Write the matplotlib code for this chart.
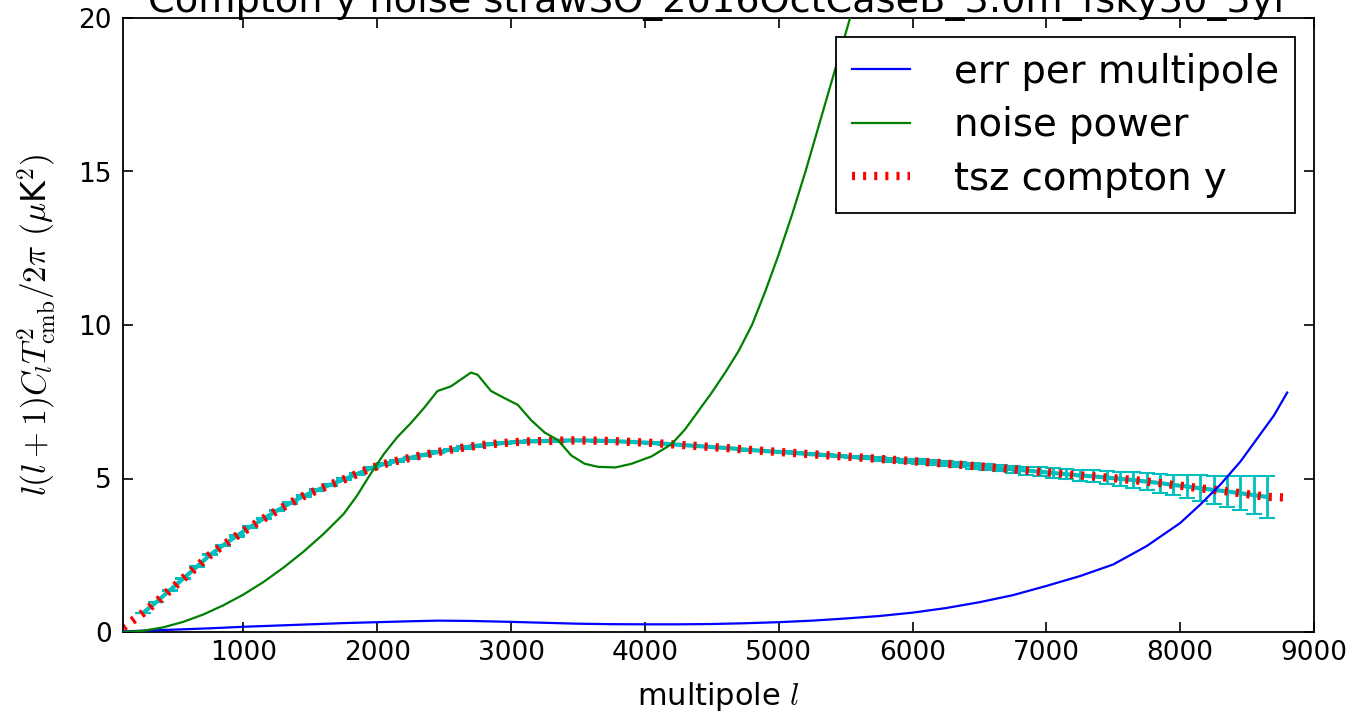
import matplotlib
matplotlib.use("Agg")
import matplotlib.pyplot as plt

plt.rcParams['mathtext.fontset'] = 'cm'
plt.rcParams['font.family'] = ['DejaVu Sans']
plt.rcParams['lines.scale_dashes'] = False

title = 'Compton y noise strawSO_2016OctCaseB_3.0m_fsky30_5yr'

# tSZ Compton-y spectrum (binned centres, 100-wide bins) + end points
bin_ell = list(range(250, 8651, 100))
tsz_bin = [0.62, 0.98, 1.36, 1.74, 2.12, 2.51, 2.83, 3.13, 3.42, 3.69,
           3.95, 4.2, 4.43, 4.62, 4.8, 4.97, 5.15, 5.33, 5.47, 5.58,
           5.68, 5.77, 5.86, 5.94, 6.01, 6.07, 6.12, 6.16, 6.19, 6.21,
           6.22, 6.23, 6.24, 6.24, 6.23, 6.22, 6.2, 6.18, 6.16, 6.13,
           6.1, 6.07, 6.04, 6.01, 5.98, 5.94, 5.91, 5.88, 5.85, 5.82,
           5.79, 5.76, 5.73, 5.7, 5.67, 5.64, 5.61, 5.58, 5.55, 5.52,
           5.48, 5.45, 5.41, 5.38, 5.34, 5.3, 5.26, 5.22, 5.18, 5.14,
           5.1, 5.07, 5.03, 4.99, 4.95, 4.9, 4.85, 4.79, 4.74, 4.68,
           4.63, 4.58, 4.52, 4.46, 4.4]
tsz_err = [0.005, 0.008, 0.01, 0.012, 0.014, 0.016, 0.018, 0.02, 0.021, 0.023,
           0.024, 0.026, 0.027, 0.028, 0.03, 0.031, 0.032, 0.033, 0.034, 0.035,
           0.036, 0.037, 0.037, 0.036, 0.036, 0.035, 0.034, 0.033, 0.032, 0.03,
           0.029, 0.028, 0.027, 0.026, 0.026, 0.025, 0.025, 0.025, 0.025, 0.025,
           0.025, 0.026, 0.026, 0.027, 0.028, 0.029, 0.03, 0.032, 0.034, 0.036,
           0.038, 0.04, 0.043, 0.046, 0.05, 0.054, 0.058, 0.062, 0.07, 0.075,
           0.08, 0.085, 0.09, 0.1, 0.11, 0.12, 0.13, 0.14, 0.155, 0.17,
           0.185, 0.2, 0.215, 0.235, 0.26, 0.28, 0.31, 0.34, 0.38, 0.42,
           0.46, 0.5, 0.55, 0.61, 0.68]
tsz_ell = [100] + bin_ell + [8800]
tsz_val = [0.15] + tsz_bin + [4.38]

# error per multipole
err_ell = [100, 300, 500, 750, 1000, 1250, 1500, 1750, 2000, 2250, 2450, 2700,
           3000, 3250, 3500, 3750, 4000, 4250, 4500, 4750, 5000, 5250, 5500,
           5750, 6000, 6250, 6500, 6750, 7000, 7250, 7500, 7750, 8000, 8150,
           8300, 8450, 8600, 8700, 8800]
err_val = [0.02, 0.05, 0.08, 0.12, 0.17, 0.21, 0.25, 0.29, 0.32, 0.35, 0.37,
           0.36, 0.33, 0.3, 0.27, 0.255, 0.25, 0.25, 0.26, 0.285, 0.32, 0.37,
           0.44, 0.52, 0.63, 0.78, 0.97, 1.2, 1.5, 1.82, 2.2, 2.8, 3.55, 4.15,
           4.8, 5.55, 6.45, 7.05, 7.8]

# noise power
noise_ell = [100, 250, 400, 550, 700, 850, 1000, 1150, 1300, 1450, 1600,
             1750, 1850, 1950, 2050, 2150, 2250, 2350, 2450, 2550, 2650, 2700,
             2750, 2850, 2950, 3050, 3150, 3250, 3350, 3450, 3550, 3650, 3780,
             3900, 4050, 4200, 4300, 4400, 4500, 4600, 4700, 4800, 4900, 5000,
             5100, 5200, 5300, 5400, 5500, 5600]
noise_val = [0.0, 0.04, 0.15, 0.33, 0.57, 0.87, 1.22, 1.63, 2.1, 2.62, 3.2,
             3.85, 4.45, 5.15, 5.8, 6.35, 6.8, 7.3, 7.85, 8.0, 8.3, 8.45,
             8.38, 7.85, 7.62, 7.4, 6.9, 6.5, 6.25, 5.75, 5.48, 5.38, 5.36,
             5.48, 5.72, 6.12, 6.6, 7.2, 7.8, 8.45, 9.15, 10.0, 11.1, 12.3,
             13.6, 15.0, 16.5, 18.0, 19.5, 21.0]

xticks = [1000, 2000, 3000, 4000, 5000, 6000, 7000, 8000, 9000]
yticks = [0, 5, 10, 15, 20]

fig = plt.figure(figsize=(13.62, 7.21), dpi=100)
ax = fig.add_axes([123/1362, 89/721, 1191/1362, 614/721])

ax.errorbar(bin_ell, tsz_bin, yerr=tsz_err, color='c', lw=3, elinewidth=2,
            capsize=5.5, capthick=1.5, zorder=1)
ax.plot(err_ell, err_val, color='b', lw=1.6, label='err per multipole', zorder=3)
ax.plot(noise_ell, noise_val, color='g', lw=1.6, label='noise power', zorder=3)
ax.plot(tsz_ell, tsz_val, color='r', lw=6, dashes=(2.2, 5.8),
        label='tsz compton y', zorder=2)

ax.set_xlim(100, 9000)
ax.set_ylim(0, 20)
ax.set_xticks(xticks)
ax.set_yticks(yticks)
ax.tick_params(direction='in', length=7, width=1.2, top=True, right=True,
               labelsize=19, pad=8)
ax.tick_params(axis='x', pad=6)
for s in ax.spines.values():
    s.set_linewidth(1.3)

ax.set_xlabel(r'multipole $l$', fontsize=22, labelpad=10)
ax.set_ylabel(r'$l(l+1)C_lT^2_{\rm cmb}/2\pi$ $(\mu$K$^2)$', fontsize=24,
              labelpad=14)
ax.set_title(title, fontsize=27.5, pad=4)

leg = ax.legend(loc='upper right', fontsize=27.8, fancybox=False,
                edgecolor='black', framealpha=1, handlelength=1.5,
                handletextpad=1.15, labelspacing=0.4, borderpad=0.4,
                borderaxespad=0.5)
leg.get_frame().set_linewidth(1.3)

fig.savefig('out.png', dpi=100, facecolor='white')
